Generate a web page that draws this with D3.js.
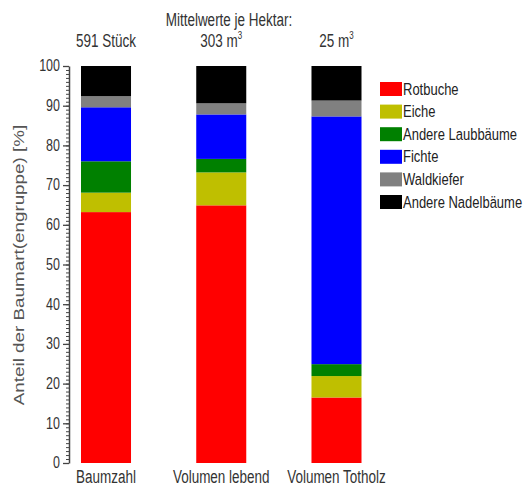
<!DOCTYPE html>
<html>
  <head>
    <meta charset="UTF-8" />
    <script src="https://cdnjs.cloudflare.com/ajax/libs/d3/7.8.5/d3.min.js"></script>
    <style>
      body { margin: 0; background: #fff; }
      text { font-family: "Liberation Sans", Arial, sans-serif; }
    </style>
  </head>
  <body>
    <svg id="chart" width="525" height="488"></svg>
    <script>
      // categories along x
      const categories = ["Baumzahl", "Volumen lebend", "Volumen Totholz"];
      const topLabels = ["591 Stück", "303 m", "25 m"];
      const topSup = ["", "3", "3"];

      // share per species group (%), one value per category
      const rotbuche = [63.2, 64.9, 16.5];
      const eiche = [4.9, 8.3, 5.4];
      const andereLaub = [7.9, 3.4, 3.0];
      const fichte = [13.6, 11.2, 62.4];
      const waldkiefer = [2.8, 2.8, 4.0];
      const andereNadel = [7.6, 9.4, 8.7];

      const seriesNames = ["Rotbuche", "Eiche", "Andere Laubbäume", "Fichte", "Waldkiefer", "Andere Nadelbäume"];
      const seriesValues = [rotbuche, eiche, andereLaub, fichte, waldkiefer, andereNadel];
      const colors = ["#ff0000", "#bfbf00", "#008000", "#0000ff", "#808080", "#000000"];
      const yTicks = [0, 10, 20, 30, 40, 50, 60, 70, 80, 90, 100];

      const stretch = 1.3; // text in the picture is drawn taller than wide
      const svg = d3.select("#chart");

      const rows = categories.map((c, i) => {
        const r = { cat: c };
        seriesNames.forEach((s, j) => (r[s] = seriesValues[j][i]));
        return r;
      });
      const stacked = d3.stack().keys(seriesNames)(rows);

      const x = d3.scaleBand().domain(categories).range([81, 361.5]).paddingInner(0.566).paddingOuter(0);
      const y = d3.scaleLinear().domain([0, 100]).range([463, 66]);

      // bars
      svg.append("g")
        .selectAll("g")
        .data(stacked)
        .join("g")
        .attr("fill", (d, i) => colors[i])
        .selectAll("rect")
        .data(d => d)
        .join("rect")
        .attr("x", d => x(d.data.cat))
        .attr("width", x.bandwidth())
        .attr("y", d => y(d[1]))
        .attr("height", d => y(d[0]) - y(d[1]));

      // y axis, minor ticks first
      svg.append("g")
        .attr("transform", "translate(69,0)")
        .call(d3.axisLeft(y).tickValues(d3.range(0, 101)).tickSize(3).tickFormat(""))
        .call(g => g.select(".domain").remove())
        .selectAll("line").attr("stroke", "#444");

      const yAxis = svg.append("g")
        .attr("transform", "translate(69,0)")
        .call(d3.axisLeft(y).tickValues(yTicks).tickSize(6).tickSizeOuter(0).tickPadding(3));
      yAxis.select(".domain").attr("stroke", "#444").attr("stroke-width", 1.5);
      yAxis.selectAll("line").attr("stroke", "#444").attr("stroke-width", 1.3);
      yAxis.selectAll("text")
        .attr("font-size", 12.5)
        .attr("fill", "#333")
        .attr("font-family", "Liberation Sans, Arial, sans-serif")
        .attr("transform", `scale(1,${stretch})`)
        .attr("dy", "0.3em");

      function label(x0, y0, txt, size, anchor, fill) {
        return svg.append("text")
          .attr("transform", `translate(${x0},${y0}) scale(1,${stretch})`)
          .attr("text-anchor", anchor)
          .attr("font-size", size)
          .attr("fill", fill)
          .text(txt);
      }

      // y title
      svg.append("text")
        .attr("transform", `translate(24,265) rotate(-90) scale(${stretch},1)`)
        .attr("text-anchor", "middle")
        .attr("font-size", 14.5)
        .attr("fill", "#555")
        .text("Anteil der Baumart(engruppe) [%]");

      // header
      label(229, 25.5, "Mittelwerte je Hektar:", 13.5, "middle", "#333");
      categories.forEach((c, i) => {
        const cx = x(c) + x.bandwidth() / 2;
        const t = label(cx, 47, topLabels[i], 13.5, "middle", "#333");
        if (topSup[i]) t.append("tspan").attr("font-size", 8).attr("dy", -6).text(topSup[i]);
        label(cx, 483, c, 13.5, "middle", "#333");
      });

      // legend
      const legend = svg.append("g").attr("transform", "translate(380,82)");
      seriesNames.forEach((s, i) => {
        legend.append("rect")
          .attr("x", 0)
          .attr("y", i * 22.6)
          .attr("width", 22)
          .attr("height", 14)
          .attr("fill", colors[i]);
        legend.append("text")
          .attr("transform", `translate(23,${i * 22.6 + 12.5}) scale(1,${stretch})`)
          .attr("font-size", 13)
          .attr("fill", "#222")
          .text(s);
      });
    </script>
  </body>
</html>
